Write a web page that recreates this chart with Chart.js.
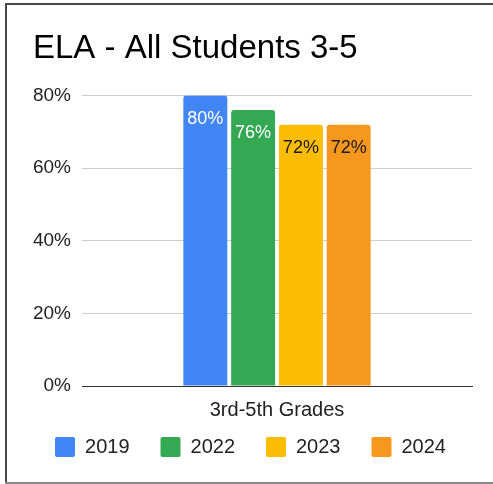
<!DOCTYPE html>
<html>
<head>
<meta charset="utf-8">
<script src="https://cdn.jsdelivr.net/npm/chart.js@4.4.1/dist/chart.umd.min.js"></script>
<style>
  html, body { margin: 0; padding: 0; background: #fff; overflow: hidden; }
</style>
</head>
<body>
<canvas id="myChart" width="493" height="484"></canvas>
<script>
const categories = ['3rd-5th Grades'];
const years = ['2019', '2022', '2023', '2024'];
const scores = [80, 76, 72, 72];
const yTicks = [0, 20, 40, 60, 80];

const barColors = ['#4285f4', '#34a853', '#fbbc04', '#f7981e'];
const labelColors = ['#ffffff', '#ffffff', '#1a1a1a', '#1a1a1a'];
const FONT = 'Arial, "Liberation Sans", sans-serif';

// thin frame round the whole picture (left, top and bottom edges show)
const frame = {
    id: 'frame',
    beforeDraw: (chart) => {
        const ctx = chart.ctx;
        ctx.save();
        ctx.fillStyle = '#4a4a4a';
        ctx.fillRect(5, 3, 2, 480);
        ctx.fillRect(5, 3, chart.width - 5, 2);
        ctx.fillStyle = '#8a8a8a';
        ctx.fillRect(5, 482, chart.width - 5, 2);
        ctx.restore();
    }
};

// title sits further right than the legend area, legend sits closer to the axis
const nudge = {
    id: 'nudge',
    afterLayout: (chart) => {
        chart.titleBlock.left += 10;
        chart.titleBlock.right += 10;
        chart.legend.top -= 18;
        chart.legend.bottom -= 18;
        chart.legend.left -= 2;
        chart.legend.right -= 2;
    }
};

const valueLabels = {
    id: 'value_labels',
    afterDatasetsDraw: (chart) => {
        const ctx = chart.ctx;
        ctx.save();
        ctx.font = '18px ' + FONT;
        ctx.textAlign = 'center';
        ctx.textBaseline = 'middle';
        chart.data.datasets.forEach((ds, i) => {
            const meta = chart.getDatasetMeta(i);
            meta.data.forEach((bar, j) => {
                ctx.fillStyle = labelColors[i];
                ctx.fillText(ds.data[j] + '%', bar.x, bar.y + 23);
            });
        });
        ctx.restore();
    }
};

const chart = new Chart(document.getElementById('myChart'), {
    type: 'bar',
    data: {
        labels: categories,
        datasets: years.map((y, i) => ({
            label: y,
            data: [scores[i]],
            backgroundColor: barColors[i],
            borderRadius: 3,
            categoryPercentage: 0.49,
            barPercentage: 0.92,
        })),
    },
    options: {
        responsive: false,
        animation: false,
        devicePixelRatio: 1,
        layout: {
            padding: {left: 23, right: 11, top: 10, bottom: -1}
        },
        plugins: {
            title: {
                display: true,
                text: 'ELA - All Students 3-5',
                align: 'start',
                color: '#000',
                font: {family: FONT, size: 33, weight: 'normal', lineHeight: 1.2},
                padding: {top: 19, bottom: 27},
            },
            legend: {
                position: 'bottom',
                labels: {
                    boxWidth: 20,
                    boxHeight: 20,
                    padding: 31,
                    color: '#222',
                    useBorderRadius: true,
                    borderRadius: 2,
                    font: {family: FONT, size: 20},
                }
            },
            tooltip: {enabled: false},
        },
        scales: {
            x: {
                grid: {display: false},
                border: {display: true, color: '#333', width: 1},
                ticks: {color: '#222', padding: 4, font: {family: FONT, size: 20}},
                afterFit: (s) => { s.height = 38; },
            },
            y: {
                min: yTicks[0],
                max: yTicks[yTicks.length - 1],
                afterBuildTicks: (s) => { s.ticks = yTicks.map(v => ({value: v})); },
                border: {display: false},
                grid: {
                    drawTicks: false,
                    color: (c) => c.tick && c.tick.value === 0 ? '#333' : '#cccccc',
                },
                ticks: {
                    color: '#222',
                    padding: 11,
                    font: {family: FONT, size: 19},
                    callback: (v) => v + '%',
                },
                afterFit: (s) => { s.width = 59; },
            },
            yRight: {
                position: 'right',
                grid: {display: false},
                border: {display: false},
                ticks: {display: false},
                afterFit: (s) => { s.width = 10; },
            }
        }
    },
    plugins: [frame, nudge, valueLabels],
});
</script>
</body>
</html>
